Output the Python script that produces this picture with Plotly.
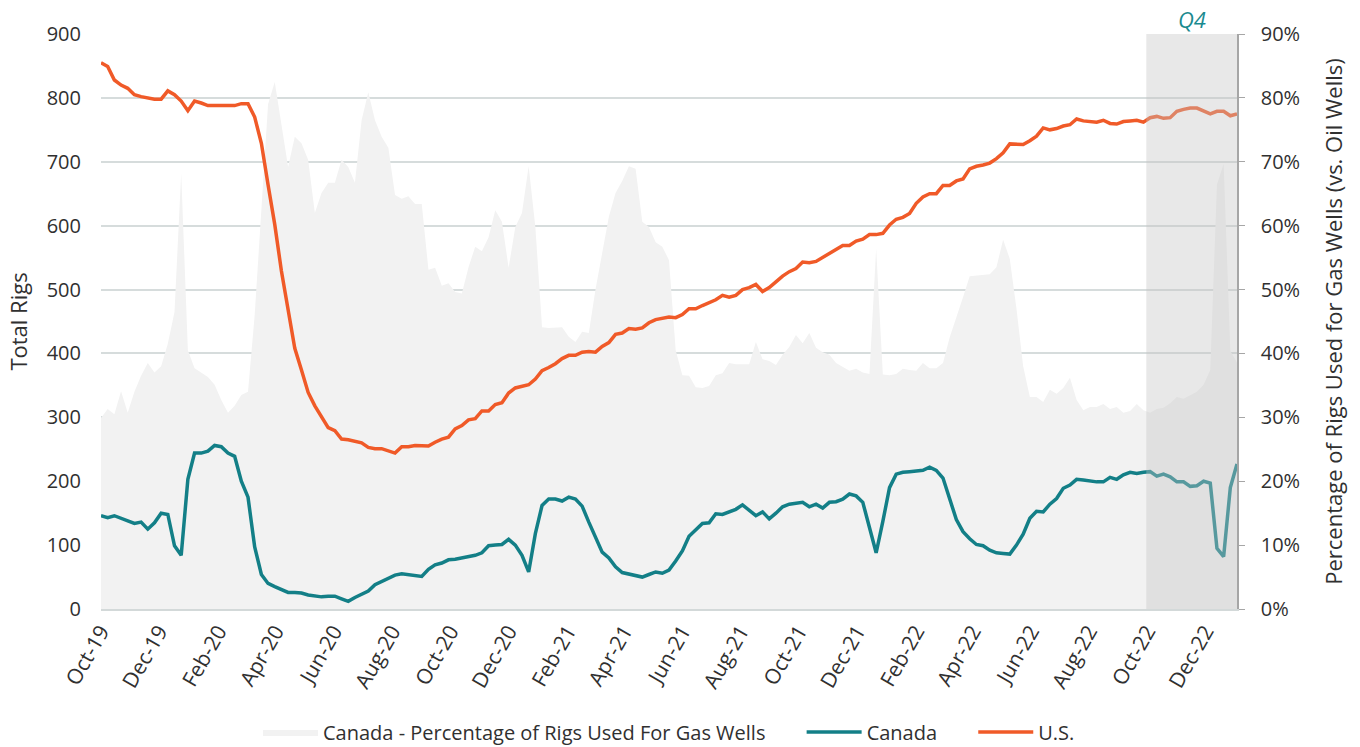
import plotly.graph_objects as go
import pandas as pd

# ---------------- data (weekly, first week = 2019-10-11) ----------------
start_date = "2019-10-11"

us_rigs = [855, 849, 828, 820, 815, 805, 802, 800, 798, 798, 811, 805, 795, 780, 795, 792, 788, 788, 788, 789,
           788, 791, 791, 770, 729, 664, 602, 529, 465, 408, 374, 339, 318, 301, 284, 279, 266, 265, 263, 260,
           253, 251, 251, 247, 244, 254, 254, 256, 255, 255, 261, 266, 269, 282, 287, 296, 298, 310, 310, 320,
           323, 338, 346, 348, 351, 360, 373, 378, 384, 392, 397, 397, 402, 403, 402, 411, 417, 430, 432, 439,
           438, 440, 448, 453, 455, 457, 456, 461, 470, 470, 475, 479, 484, 491, 488, 491, 500, 503, 508, 497,
           503, 512, 521, 528, 533, 543, 542, 544, 550, 556, 563, 569, 569, 576, 579, 586, 586, 588, 601, 610,
           613, 619, 635, 645, 650, 650, 663, 663, 670, 673, 689, 693, 695, 698, 705, 714, 728, 727, 727, 733,
           740, 753, 750, 752, 756, 758, 767, 764, 763, 762, 765, 760, 759, 763, 764, 765, 762, 769, 771, 768,
           769, 779, 782, 784, 784, 780, 775, 779, 779, 772, 775]

canada_rigs = [146, 143, 146, 142, 139, 134, 136, 125, 135, 150, 148, 99, 84, 203, 244, 244, 247, 256, 254, 244,
               239, 200, 175, 97, 54, 40, 35, 30, 26, 26, 25, 22, 20, 19, 20, 20, 16, 12, 18, 23,
               28, 38, 43, 48, 53, 55, 54, 52, 51, 62, 69, 72, 77, 78, 80, 83, 84, 88, 99, 100,
               101, 109, 100, 84, 58, 118, 162, 172, 172, 169, 175, 172, 161, 136, 112, 89, 80, 66, 57, 55,
               53, 50, 54, 58, 56, 61, 75, 91, 114, 124, 134, 135, 149, 148, 152, 156, 163, 155, 146, 152,
               141, 150, 160, 164, 166, 167, 160, 164, 158, 167, 168, 172, 180, 177, 167, 128, 88, 137, 190, 211,
               214, 215, 216, 217, 222, 217, 205, 172, 140, 121, 110, 101, 99, 92, 88, 87, 86, 100, 117, 142,
               153, 152, 164, 173, 189, 194, 203, 202, 200, 199, 199, 206, 203, 210, 214, 212, 214, 215, 208, 211,
               207, 199, 199, 192, 193, 200, 197, 95, 82, 190, 227]

canada_gas_pct = [29.9, 31.3, 30.5, 34.1, 30.7, 34.0, 36.5, 38.5, 37.0, 38.0, 41.5, 46.5, 68.2, 40.5, 37.7, 37.0, 36.3, 35.1, 32.7, 30.7,
                  31.8, 33.5, 34.0, 46.0, 63.0, 79.0, 82.5, 76.1, 69.2, 73.9, 72.9, 70.3, 62.0, 65.1, 66.7, 66.7, 70.3, 69.2, 66.7, 76.5,
                  80.9, 76.5, 73.9, 72.2, 64.8, 64.2, 64.6, 63.4, 63.4, 53.1, 53.4, 50.6, 51.0, 49.6, 49.4, 53.5, 56.7, 56.0, 58.2, 62.4,
                  60.6, 53.4, 59.8, 62.0, 69.3, 59.8, 44.1, 44.0, 44.0, 44.1, 42.6, 41.8, 43.4, 43.2, 50.0, 55.7, 61.4, 65.1, 67.0, 69.3,
                  68.9, 60.6, 59.8, 57.4, 56.7, 54.6, 40.5, 36.6, 36.5, 34.7, 34.6, 34.9, 36.6, 36.9, 38.5, 38.3, 38.3, 38.3, 41.8, 39.1,
                  38.8, 38.2, 39.8, 41.0, 42.9, 41.6, 43.2, 40.9, 40.2, 39.8, 38.5, 37.9, 37.3, 37.6, 37.0, 36.8, 56.4, 36.7, 36.6, 36.8,
                  37.6, 37.4, 37.3, 38.5, 37.7, 37.7, 38.5, 42.5, 45.5, 48.8, 52.1, 52.2, 52.3, 52.4, 53.5, 57.8, 54.8, 47.0, 38.0, 33.2,
                  33.2, 32.4, 34.3, 33.7, 34.6, 36.2, 32.7, 31.1, 31.6, 31.6, 32.1, 31.3, 31.6, 30.7, 31.0, 32.1, 31.1, 30.7, 31.3, 31.5,
                  32.2, 33.2, 32.9, 33.5, 34.0, 35.1, 37.4, 66.4, 69.7, 40.4, 38.6]

tick_labels = ["Oct-19", "Dec-19", "Feb-20", "Apr-20", "Jun-20", "Aug-20", "Oct-20", "Dec-20", "Feb-21", "Apr-21",
               "Jun-21", "Aug-21", "Oct-21", "Dec-21", "Feb-22", "Apr-22", "Jun-22", "Aug-22", "Oct-22", "Dec-22"]

series_names = ["Canada - Percentage of Rigs Used For Gas Wells", "Canada", "U.S."]

q4_start = "2022-10-10"

# ---------------- build ----------------
n = min(len(us_rigs), len(canada_rigs), len(canada_gas_pct))
dates = pd.date_range(start_date, periods=n, freq="7D")
tick_dates = pd.date_range(start_date, periods=len(tick_labels), freq=pd.DateOffset(months=2))

FONT = "Open Sans"
TXT = "#303030"
TEAL = "rgb(19,127,135)"
ORANGE = "rgb(240,90,40)"
TICK = 20
TITLE = 22
PAD = "\u00a0" * 6  # spacing between legend entries

fig = go.Figure()

fig.add_trace(go.Scatter(
    x=dates, y=[v / 100 for v in canada_gas_pct[:n]],
    name=series_names[0] + PAD,
    mode="lines", line=dict(width=0, color="#f2f2f2"),
    fill="tozeroy", fillcolor="#f2f2f2", yaxis="y"))

fig.add_trace(go.Scatter(
    x=dates, y=canada_rigs[:n], name=series_names[1] + PAD, mode="lines",
    line=dict(color=TEAL, width=3.5), yaxis="y2"))

fig.add_trace(go.Scatter(
    x=dates, y=us_rigs[:n], name=series_names[2], mode="lines",
    line=dict(color=ORANGE, width=3.5), yaxis="y2"))

fig.add_shape(type="rect", xref="x", yref="paper", x0=q4_start, x1=dates[-1],
              y0=0, y1=1, fillcolor="rgba(195,195,195,0.39)", line=dict(width=0), layer="above")

fig.add_annotation(x="2022-11-27", y=1, xref="x", yref="paper", yanchor="bottom", yshift=-2,
                   text="<i>Q4</i>", showarrow=False, font=dict(family=FONT, size=22, color="rgb(26,138,143)"))

fig.update_layout(
    width=1360, height=747,
    margin=dict(l=101, r=123, t=34, b=138, autoexpand=False),
    paper_bgcolor="white", plot_bgcolor="white",
    font=dict(family=FONT, size=TICK, color=TXT),
    showlegend=True,
    legend=dict(orientation="h", x=0.5, xanchor="center", y=-0.214, yanchor="middle",
                font=dict(family=FONT, size=20, color=TXT), traceorder="normal", itemwidth=55),
    xaxis=dict(type="date", range=[dates[0], dates[-1]], tickvals=tick_dates, ticktext=tick_labels,
               tickangle=-60, showgrid=False, showline=True, linecolor="#d3d9d9", linewidth=2,
               ticks="", tickfont=dict(size=TICK + 1, color=TXT), zeroline=False, automargin=False),
    yaxis=dict(side="right", range=[0, 0.9], dtick=0.1, tickformat=".0%", showgrid=False, zeroline=False,
               showline=True, linecolor="#a6a6a6", linewidth=1.5, ticks="outside", ticklen=6,
               tickcolor="#a6a6a6", tickfont=dict(size=TICK, color=TXT), ticklabelstandoff=12,
               automargin=False,
               title=dict(text="Percentage of Rigs Used for Gas Wells (vs. Oil Wells)",
                          font=dict(size=TITLE, color=TXT), standoff=27)),
    yaxis2=dict(overlaying="y", side="left", range=[0, 900], dtick=100, showgrid=True,
                gridcolor="#d6dcdc", gridwidth=1.5, zeroline=False, showline=False, ticks="",
                tickfont=dict(size=TICK, color=TXT), ticklabelstandoff=19, automargin=False,
                title=dict(text="Total Rigs", font=dict(size=TITLE, color=TXT), standoff=12)),
)

fig.write_html("out.html", config={"displayModeBar": False},
               post_script="document.body.style.margin='0px';document.body.style.overflow='hidden';")
